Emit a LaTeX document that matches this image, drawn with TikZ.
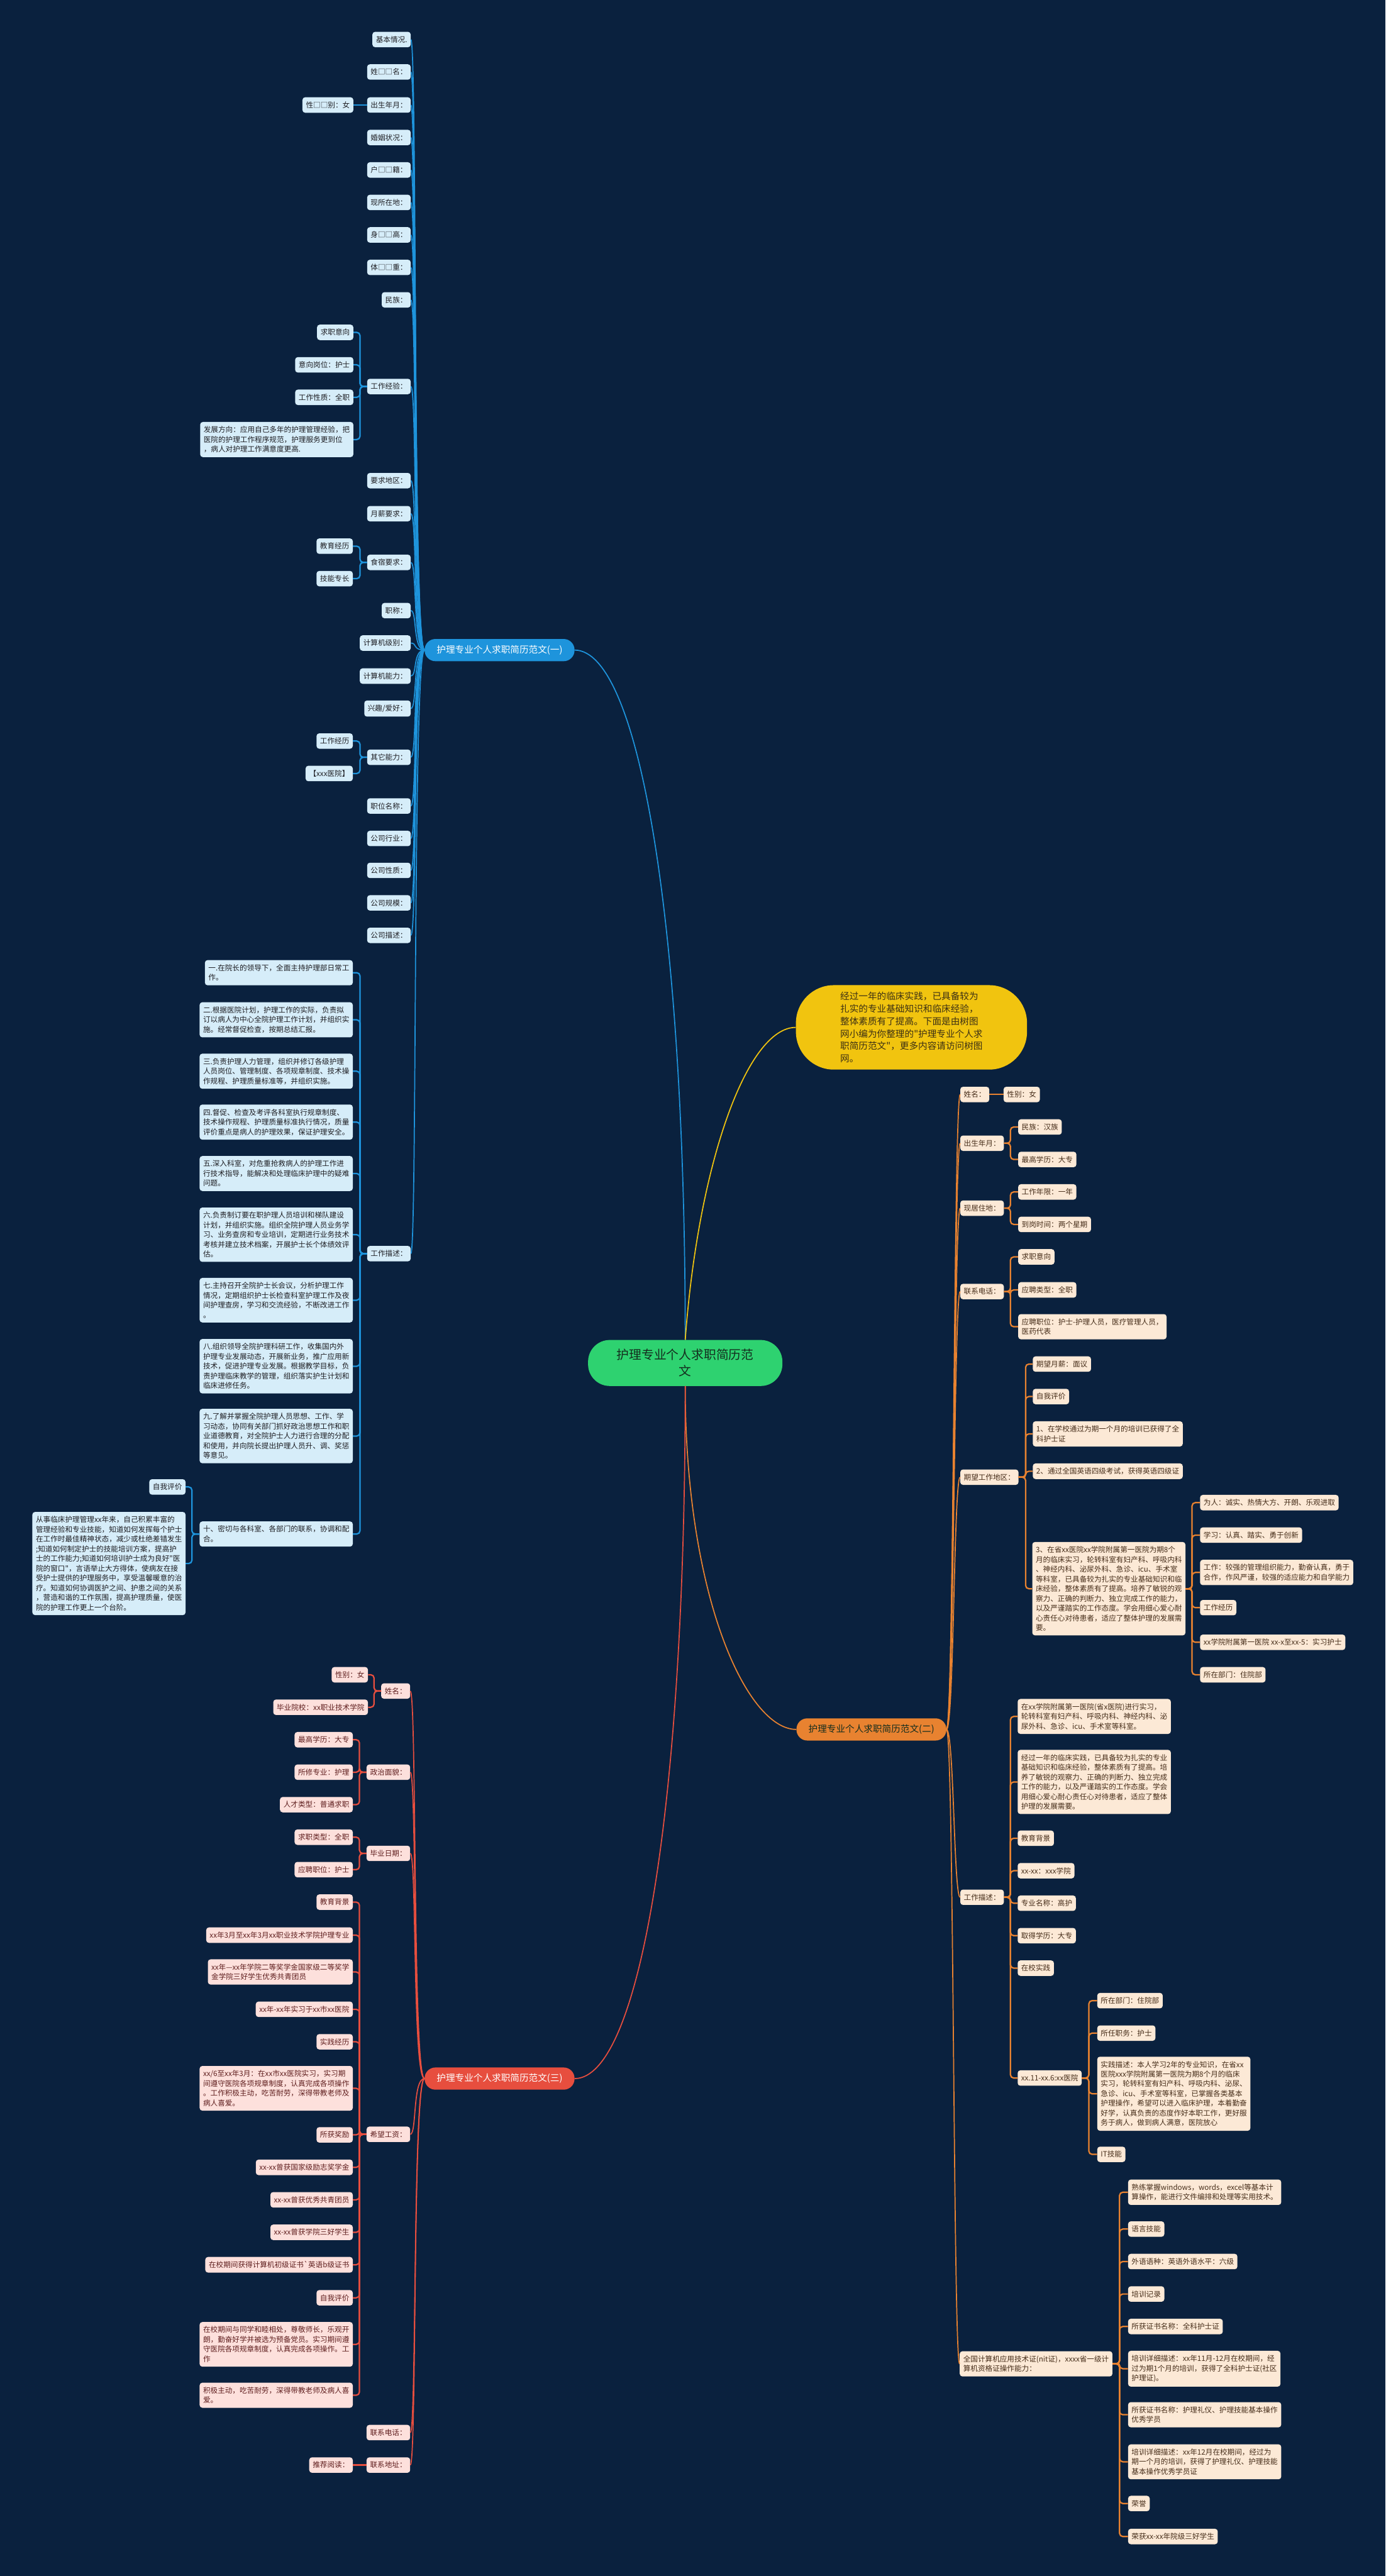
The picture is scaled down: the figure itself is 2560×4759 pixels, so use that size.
\documentclass[tikz,border=0pt]{standalone}
\usepackage{fontspec}
\newfontfamily\cjk{Noto Sans CJK SC}

\definecolor{bgnavy}{RGB}{10,33,62}
\definecolor{rootgreen}{RGB}{46,210,112}
\definecolor{rootink}{RGB}{20,45,30}
\definecolor{introyellow}{RGB}{241,196,15}
\definecolor{introink}{RGB}{60,48,20}
\definecolor{blueline}{RGB}{30,148,220}
\definecolor{blueleaf}{RGB}{214,237,249}
\definecolor{blueink}{RGB}{30,30,35}
\definecolor{orangeline}{RGB}{232,130,48}
\definecolor{orangeleaf}{RGB}{252,233,214}
\definecolor{orangeink}{RGB}{70,45,25}
\definecolor{redline}{RGB}{231,78,62}
\definecolor{redleaf}{RGB}{253,224,220}
\definecolor{redink}{RGB}{95,30,30}

\newcommand{\leaffont}{\cjk\fontsize{13.5}{18}\selectfont}
\newcommand{\branchfont}{\cjk\fontsize{17}{22}\selectfont}
\newcommand{\rootfont}{\cjk\fontsize{23}{30}\selectfont}
\newcommand{\introfont}{\cjk\fontsize{17}{23}\selectfont}

\tikzset{
  rootbox/.style={fill=rootgreen, text=rootink, rounded corners=40pt, minimum width=359pt, minimum height=85pt, align=center, font=\rootfont},
  introbox/.style={fill=introyellow, text=introink, rounded corners=70pt, minimum width=427pt, minimum height=156pt, align=left, font=\introfont},
  branch/.style={rounded corners=20pt, minimum width=277pt, minimum height=41pt, font=\branchfont},
  leaf/.style={rounded corners=5pt, inner xsep=6.5pt, inner ysep=8pt, align=left, font=\leaffont},
  leafA/.style={leaf, fill=blueleaf, text=blueink},
  leafB/.style={leaf, fill=orangeleaf, text=orangeink},
  leafC/.style={leaf, fill=redleaf, text=redink},
  lineA/.style={draw=blueline, line width=2pt},
  lineB/.style={draw=orangeline, line width=2pt},
  lineC/.style={draw=redline, line width=2pt},
  elbowA/.style={draw=blueline, line width=2.6pt, rounded corners=6pt},
  elbowB/.style={draw=orangeline, line width=2.6pt, rounded corners=6pt},
  elbowC/.style={draw=redline, line width=2.6pt, rounded corners=6pt},
}

\begin{document}
\begin{tikzpicture}[x=1pt,y=-1pt]
    \fill[bgnavy] (0,0) rectangle (2560,4759);
    \useasboundingbox (0,0) rectangle (2560,4759);

    % Root, intro bubble and the three main branches.
        \node[rootbox] (root) at (1266,2518) {护理专业个人求职简历范\\文};
        \node[introbox] (intro) at (1684,1898) {经过一年的临床实践，已具备较为\\扎实的专业基础知识和临床经验，\\整体素质有了提高。下面是由树图\\网小编为你整理的"护理专业个人求\\职简历范文"，更多内容请访问树图\\网。};
        \node[branch, fill=blueline, text=white] (b1) at (923,1201) {护理专业个人求职简历范文(一)};
        \node[branch, fill=orangeline, text=rootink] (b2) at (1610,3195) {护理专业个人求职简历范文(二)};
        \node[branch, fill=redline, text=white] (b3) at (923,3840) {护理专业个人求职简历范文(三)};

        \draw[lineA] (root.north) .. controls (1266,1700) and (1180,1201) .. (b1.east);
        \draw[draw=introyellow, line width=2pt] (root.north) .. controls (1290,2150) and (1380,1898) .. (intro.west);
        \draw[lineB] (root.south) .. controls (1266,2950) and (1380,3195) .. (b2.west);
        \draw[lineC] (root.south) .. controls (1266,3350) and (1180,3840) .. (b3.east);

    % Branch (一), leaves on the left.
        \node[leafA, anchor=east] (jbqk) at (759,73) {基本情况.};
        \node[leafA, anchor=east] (xm) at (759,133) {姓□□名：};
        \node[leafA, anchor=east] (csny) at (759,194) {出生年月：};
        \node[leafA, anchor=east] (xb) at (653,194) {性□□别：女};
        \node[leafA, anchor=east] (hyzk) at (759,254) {婚姻状况：};
        \node[leafA, anchor=east] (hj) at (759,314) {户□□籍：};
        \node[leafA, anchor=east] (xszd) at (759,374) {现所在地：};
        \node[leafA, anchor=east] (sg) at (759,434) {身□□高：};
        \node[leafA, anchor=east] (tz) at (759,494) {体□□重：};
        \node[leafA, anchor=east] (mz) at (759,554) {民族：};
        \node[leafA, anchor=east] (gzjy) at (759,714) {工作经验：};
        \node[leafA, anchor=east] (qzyx) at (653,614) {求职意向};
        \node[leafA, anchor=east] (yxgw) at (653,674) {意向岗位：护士};
        \node[leafA, anchor=east] (gzxz) at (653,734) {工作性质：全职};
        \node[leafA, anchor=east] (fzfx) at (653,812) {发展方向：应用自己多年的护理管理经验，把\\医院的护理工作程序规范，护理服务更到位\\，病人对护理工作满意度更高.};
        \node[leafA, anchor=east] (yqdq) at (759,888) {要求地区：};
        \node[leafA, anchor=east] (yxyq) at (759,949) {月薪要求：};
        \node[leafA, anchor=east] (ssyq) at (759,1039) {食宿要求：};
        \node[leafA, anchor=east] (jyjl) at (652,1009) {教育经历};
        \node[leafA, anchor=east] (jnzc) at (652,1069) {技能专长};
        \node[leafA, anchor=east] (zc) at (759,1128) {职称：};
        \node[leafA, anchor=east] (jsjjb) at (759,1188) {计算机级别：};
        \node[leafA, anchor=east] (jsjnl) at (759,1249) {计算机能力：};
        \node[leafA, anchor=east] (xqah) at (759,1309) {兴趣/爱好：};
        \node[leafA, anchor=east] (qtnl) at (759,1399) {其它能力：};
        \node[leafA, anchor=east] (gzjl) at (652,1369) {工作经历};
        \node[leafA, anchor=east] (yyA) at (652,1429) {【xxx医院】};
        \node[leafA, anchor=east] (zwmc) at (759,1489) {职位名称：};
        \node[leafA, anchor=east] (gshy) at (759,1549) {公司行业：};
        \node[leafA, anchor=east] (gsxz) at (759,1608) {公司性质：};
        \node[leafA, anchor=east] (gsgm) at (759,1668) {公司规模：};
        \node[leafA, anchor=east] (gsms) at (759,1728) {公司描述：};
        \node[leafA, anchor=east] (gzms) at (759,2316) {工作描述：};
        \node[leafA, anchor=east] (ms1) at (652,1797) {一.在院长的领导下，全面主持护理部日常工\\作。};
        \node[leafA, anchor=east] (ms2) at (652,1884) {二.根据医院计划，护理工作的实际，负责拟\\订以病人为中心全院护理工作计划，并组织实\\施。经常督促检查，按期总结汇报。};
        \node[leafA, anchor=east] (ms3) at (652,1979) {三.负责护理人力管理，组织并修订各级护理\\人员岗位、管理制度、各项规章制度、技术操\\作规程、护理质量标准等，并组织实施。};
        \node[leafA, anchor=east] (ms4) at (652,2073) {四.督促、检查及考评各科室执行规章制度、\\技术操作规程、护理质量标准执行情况，质量\\评价重点是病人的护理效果，保证护理安全。};
        \node[leafA, anchor=east] (ms5) at (652,2168) {五.深入科室，对危重抢救病人的护理工作进\\行技术指导，能解决和处理临床护理中的疑难\\问题。};
        \node[leafA, anchor=east] (ms6) at (652,2281) {六.负责制订要在职护理人员培训和梯队建设\\计划，并组织实施。组织全院护理人员业务学\\习、业务查房和专业培训，定期进行业务技术\\考核并建立技术档案，开展护士长个体绩效评\\估。};
        \node[leafA, anchor=east] (ms7) at (652,2402) {七.主持召开全院护士长会议，分析护理工作\\情况，定期组织护士长检查科室护理工作及夜\\间护理查房，学习和交流经验，不断改进工作\\。};
        \node[leafA, anchor=east] (ms8) at (652,2524) {八.组织领导全院护理科研工作，收集国内外\\护理专业发展动态，开展新业务，推广应用新\\技术，促进护理专业发展。根据教学目标，负\\责护理临床教学的管理，组织落实护生计划和\\临床进修任务。};
        \node[leafA, anchor=east] (ms9) at (652,2653) {九.了解并掌握全院护理人员思想、工作、学\\习动态，协同有关部门抓好政治思想工作和职\\业道德教育，对全院护士人力进行合理的分配\\和使用，并向院长提出护理人员升、调、奖惩\\等意见。};
        \node[leafA, anchor=east] (ms10) at (652,2834) {十、密切与各科室、各部门的联系，协调和配\\合。};
        \node[leafA, anchor=east] (zwpj) at (343,2747) {自我评价};
        \node[leafA, anchor=north east] (cslc) at (343,2793) {从事临床护理管理xx年来，自己积累丰富的\\管理经验和专业技能，知道如何发挥每个护士\\在工作时最佳精神状态，减少或杜绝差错发生\\;知道如何制定护士的技能培训方案，提高护\\士的工作能力;知道如何培训护士成为良好"医\\院的窗口"，言语举止大方得体，使病友在接\\受护士提供的护理服务中，享受温馨暖意的治\\疗。知道如何协调医护之间、护患之间的关系\\，营造和谐的工作氛围，提高护理质量，使医\\院的护理工作更上一个台阶。};

        \foreach \kid in {jbqk,xm,csny,hyzk,hj,xszd,sg,tz,mz,gzjy,yqdq,yxyq,ssyq,zc,jsjjb,jsjnl,xqah,qtnl,zwmc,gshy,gsxz,gsgm,gsms,gzms}
            \draw[lineA] (b1.west) .. controls +(-22,0) and +(12,0) .. (\kid.east);
        \draw[elbowA] (csny.west) -- (xb.east);
        \foreach \kid in {qzyx,yxgw,gzxz,fzfx}
            \draw[elbowA] (gzjy.west) -- ++(-13,0) |- (\kid.east);
        \foreach \kid in {jyjl,jnzc}
            \draw[elbowA] (ssyq.west) -- ++(-13,0) |- (\kid.east);
        \foreach \kid in {gzjl,yyA}
            \draw[elbowA] (qtnl.west) -- ++(-13,0) |- (\kid.east);
        \foreach \kid in {ms1,ms2,ms3,ms4,ms5,ms6,ms7,ms8,ms9,ms10}
            \draw[elbowA] (gzms.west) -- ++(-13,0) |- (\kid.east);
        \foreach \kid in {zwpj,cslc}
            \draw[elbowA] (ms10.west) -- ++(-14,0) |- (\kid.east);

    % Branch (二), leaves on the right.
        \node[leafB, anchor=west] (xmB) at (1774,2022) {姓名：};
        \node[leafB, anchor=west] (xbB) at (1854,2022) {性别：女};
        \node[leafB, anchor=west] (csnyB) at (1774,2112) {出生年月：};
        \node[leafB, anchor=west] (mzB) at (1881,2082) {民族：汉族};
        \node[leafB, anchor=west] (zgxlB) at (1881,2142) {最高学历：大专};
        \node[leafB, anchor=west] (xjzd) at (1774,2232) {现居住地：};
        \node[leafB, anchor=west] (gznx) at (1881,2202) {工作年限：一年};
        \node[leafB, anchor=west] (dgsj) at (1881,2262) {到岗时间：两个星期};
        \node[leafB, anchor=west] (lxdhB) at (1774,2386) {联系电话：};
        \node[leafB, anchor=west] (qzyxB) at (1881,2322) {求职意向};
        \node[leafB, anchor=west] (yplx) at (1881,2383) {应聘类型：全职};
        \node[leafB, anchor=west] (ypzwB) at (1881,2451) {应聘职位：护士-护理人员，医疗管理人员，\\医药代表};
        \node[leafB, anchor=west] (qwdq) at (1774,2729) {期望工作地区：};
        \node[leafB, anchor=west] (qwyx) at (1908,2520) {期望月薪：面议};
        \node[leafB, anchor=west] (zwpjB) at (1908,2580) {自我评价};
        \node[leafB, anchor=west] (px1) at (1908,2649) {1、在学校通过为期一个月的培训已获得了全\\科护士证};
        \node[leafB, anchor=west] (px2) at (1908,2718) {2、通过全国英语四级考试，获得英语四级证};
        \node[leafB, anchor=west] (px3) at (1907,2935) {3、在省xx医院xx学院附属第一医院为期8个\\月的临床实习，轮转科室有妇产科、呼吸内科\\、神经内科、泌尿外科、急诊、icu、手术室\\等科室，已具备较为扎实的专业基础知识和临\\床经验，整体素质有了提高。培养了敏锐的观\\察力、正确的判断力、独立完成工作的能力，\\以及严谨踏实的工作态度。学会用细心爱心耐\\心责任心对待患者，适应了整体护理的发展需\\要。};
        \node[leafB, anchor=west] (wr) at (2217,2776) {为人：诚实、热情大方、开朗、乐观进取};
        \node[leafB, anchor=west] (xxi) at (2217,2836) {学习：认真、踏实、勇于创新};
        \node[leafB, anchor=west] (gzB) at (2217,2905) {工作：较强的管理组织能力，勤奋认真，勇于\\合作，作风严谨，较强的适应能力和自学能力};
        \node[leafB, anchor=west] (gzjlB) at (2217,2970) {工作经历};
        \node[leafB, anchor=west] (sxhs) at (2217,3034) {xx学院附属第一医院 xx-x至xx-5：实习护士};
        \node[leafB, anchor=west] (szbm) at (2217,3094) {所在部门：住院部};
        \node[leafB, anchor=west] (gzmsB) at (1774,3505) {工作描述：};
        \node[leafB, anchor=west] (sxA) at (1880,3171) {在xx学院附属第一医院(省x医院)进行实习，\\轮转科室有妇产科、呼吸内科、神经内科、泌\\尿外科、急诊、icu、手术室等科室。};
        \node[leafB, anchor=west] (jgA) at (1880,3292) {经过一年的临床实践，已具备较为扎实的专业\\基础知识和临床经验，整体素质有了提高。培\\养了敏锐的观察力、正确的判断力、独立完成\\工作的能力，以及严谨踏实的工作态度。学会\\用细心爱心耐心责任心对待患者，适应了整体\\护理的发展需要。};
        \node[leafB, anchor=west] (jybjB) at (1880,3396) {教育背景};
        \node[leafB, anchor=west] (xxxy) at (1880,3456) {xx-xx：xxx学院};
        \node[leafB, anchor=west] (zymc) at (1880,3516) {专业名称：高护};
        \node[leafB, anchor=west] (qdxl) at (1880,3576) {取得学历：大专};
        \node[leafB, anchor=west] (zxsj) at (1880,3636) {在校实践};
        \node[leafB, anchor=west] (yyB) at (1880,3839) {xx.11-xx.6:xx医院};
        \node[leafB, anchor=west] (szbmB) at (2027,3696) {所在部门：住院部};
        \node[leafB, anchor=west] (srzw) at (2027,3756) {所任职务：护士};
        \node[leafB, anchor=west] (sjms) at (2027,3868) {实践描述：本人学习2年的专业知识，在省xx\\医院xxx学院附属第一医院为期8个月的临床\\实习，轮转科室有妇产科、呼吸内科、泌尿、\\急诊、icu、手术室等科室，已掌握各类基本\\护理操作，希望可以进入临床护理，本着勤奋\\好学，认真负责的态度作好本职工作，更好服\\务于病人，做到病人满意，医院放心};
        \node[leafB, anchor=west] (itjn) at (2027,3980) {IT技能};
        \node[leafB, anchor=west] (qgjsj) at (1773,4367) {全国计算机应用技术证(nit证)，xxxx省一级计\\算机资格证操作能力：};
        \node[leafB, anchor=west] (sl) at (2084,4050) {熟练掌握windows，words，excel等基本计\\算操作，能进行文件编排和处理等实用技术。};
        \node[leafB, anchor=west] (yyjn) at (2084,4118) {语言技能};
        \node[leafB, anchor=west] (wyyz) at (2084,4178) {外语语种：英语外语水平：六级};
        \node[leafB, anchor=west] (pxjl) at (2084,4238) {培训记录};
        \node[leafB, anchor=west] (hdzs1) at (2084,4298) {所获证书名称：全科护士证};
        \node[leafB, anchor=west] (pxms1) at (2084,4376) {培训详细描述：xx年11月-12月在校期间，经\\过为期1个月的培训，获得了全科护士证(社区\\护理证)。};
        \node[leafB, anchor=west] (hdzs2) at (2084,4461) {所获证书名称：护理礼仪、护理技能基本操作\\优秀学员};
        \node[leafB, anchor=west] (pxms2) at (2084,4548) {培训详细描述：xx年12月在校期间，经过为\\期一个月的培训，获得了护理礼仪、护理技能\\基本操作优秀学员证};
        \node[leafB, anchor=west] (ry) at (2084,4625) {荣誉};
        \node[leafB, anchor=west] (rhsh) at (2084,4686) {荣获xx-xx年院级三好学生};

        \foreach \kid in {xmB,csnyB,xjzd,lxdhB,qwdq,gzmsB,qgjsj}
            \draw[lineB] (b2.east) .. controls +(14,0) and +(-12,0) .. (\kid.west);
        \draw[elbowB] (xmB.east) -- (xbB.west);
        \foreach \kid in {mzB,zgxlB}
            \draw[elbowB] (csnyB.east) -- ++(12,0) |- (\kid.west);
        \foreach \kid in {gznx,dgsj}
            \draw[elbowB] (xjzd.east) -- ++(12,0) |- (\kid.west);
        \foreach \kid in {qzyxB,yplx,ypzwB}
            \draw[elbowB] (lxdhB.east) -- ++(12,0) |- (\kid.west);
        \foreach \kid in {qwyx,zwpjB,px1,px2,px3}
            \draw[elbowB] (qwdq.east) -- ++(13,0) |- (\kid.west);
        \foreach \kid in {wr,xxi,gzB,gzjlB,sxhs,szbm}
            \draw[elbowB] (px3.east) -- ++(12,0) |- (\kid.west);
        \foreach \kid in {sxA,jgA,jybjB,xxxy,zymc,qdxl,zxsj,yyB}
            \draw[elbowB] (gzmsB.east) -- ++(12,0) |- (\kid.west);
        \foreach \kid in {szbmB,srzw,sjms,itjn}
            \draw[elbowB] (yyB.east) -- ++(13,0) |- (\kid.west);
        \foreach \kid in {sl,yyjn,wyyz,pxjl,hdzs1,pxms1,hdzs2,pxms2,ry,rhsh}
            \draw[elbowB] (qgjsj.east) -- ++(13,0) |- (\kid.west);

    % Branch (三), leaves on the left.
        \node[leafC, anchor=east] (xmC) at (758,3124) {姓名：};
        \node[leafC, anchor=east] (xbC) at (680,3094) {性别：女};
        \node[leafC, anchor=east] (byyx) at (680,3154) {毕业院校：xx职业技术学院};
        \node[leafC, anchor=east] (zzmm) at (758,3274) {政治面貌：};
        \node[leafC, anchor=east] (zgxlC) at (652,3214) {最高学历：大专};
        \node[leafC, anchor=east] (sxzy) at (652,3274) {所修专业：护理};
        \node[leafC, anchor=east] (rclx) at (652,3334) {人才类型：普通求职};
        \node[leafC, anchor=east] (byrq) at (758,3424) {毕业日期：};
        \node[leafC, anchor=east] (qzlx) at (652,3394) {求职类型：全职};
        \node[leafC, anchor=east] (ypzwC) at (652,3454) {应聘职位：护士};
        \node[leafC, anchor=east] (xwgz) at (758,3943) {希望工资：};
        \node[leafC, anchor=east] (ja1) at (652,3514) {教育背景};
        \node[leafC, anchor=east] (ja2) at (652,3575) {xx年3月至xx年3月xx职业技术学院护理专业};
        \node[leafC, anchor=east] (ja3) at (652,3643) {xx年—xx年学院二等奖学金国家级二等奖学\\金学院三好学生优秀共青团员};
        \node[leafC, anchor=east] (ja4) at (652,3712) {xx年-xx年实习于xx市xx医院};
        \node[leafC, anchor=east] (ja5) at (652,3772) {实践经历};
        \node[leafC, anchor=east] (ja6) at (652,3858) {xx/6至xx年3月：在xx市xx医院实习，实习期\\间遵守医院各项规章制度，认真完成各项操作\\。工作积极主动，吃苦耐劳，深得带教老师及\\病人喜爱。};
        \node[leafC, anchor=east] (ja7) at (652,3944) {所获奖励};
        \node[leafC, anchor=east] (ja8) at (652,4004) {xx-xx曾获国家级励志奖学金};
        \node[leafC, anchor=east] (ja9) at (652,4064) {xx-xx曾获优秀共青团员};
        \node[leafC, anchor=east] (ja10) at (652,4124) {xx-xx曾获学院三好学生};
        \node[leafC, anchor=east] (ja11) at (652,4184) {在校期间获得计算机初级证书`英语b级证书};
        \node[leafC, anchor=east] (ja12) at (652,4245) {自我评价};
        \node[leafC, anchor=east] (ja13) at (652,4331) {在校期间与同学和睦相处，尊敬师长，乐观开\\朗，勤奋好学并被选为预备党员。实习期间遵\\守医院各项规章制度，认真完成各项操作。工\\作};
        \node[leafC, anchor=east] (ja14) at (652,4425) {积极主动，吃苦耐劳，深得带教老师及病人喜\\爱。};
        \node[leafC, anchor=east] (lxdhC) at (758,4494) {联系电话：};
        \node[leafC, anchor=east] (lxdz) at (758,4554) {联系地址：};
        \node[leafC, anchor=east] (tjyd) at (652,4554) {推荐阅读：};

        \foreach \kid in {xmC,zzmm,byrq,xwgz,lxdhC,lxdz}
            \draw[lineC] (b3.west) .. controls +(-22,0) and +(12,0) .. (\kid.east);
        \foreach \kid in {xbC,byyx}
            \draw[elbowC] (xmC.west) -- ++(-13,0) |- (\kid.east);
        \foreach \kid in {zgxlC,sxzy,rclx}
            \draw[elbowC] (zzmm.west) -- ++(-13,0) |- (\kid.east);
        \foreach \kid in {qzlx,ypzwC}
            \draw[elbowC] (byrq.west) -- ++(-13,0) |- (\kid.east);
        \foreach \kid in {ja1,ja2,ja3,ja4,ja5,ja6,ja7,ja8,ja9,ja10,ja11,ja12,ja13,ja14}
            \draw[elbowC] (xwgz.west) -- ++(-13,0) |- (\kid.east);
        \draw[elbowC] (lxdz.west) -- (tjyd.east);
\end{tikzpicture}
\end{document}
